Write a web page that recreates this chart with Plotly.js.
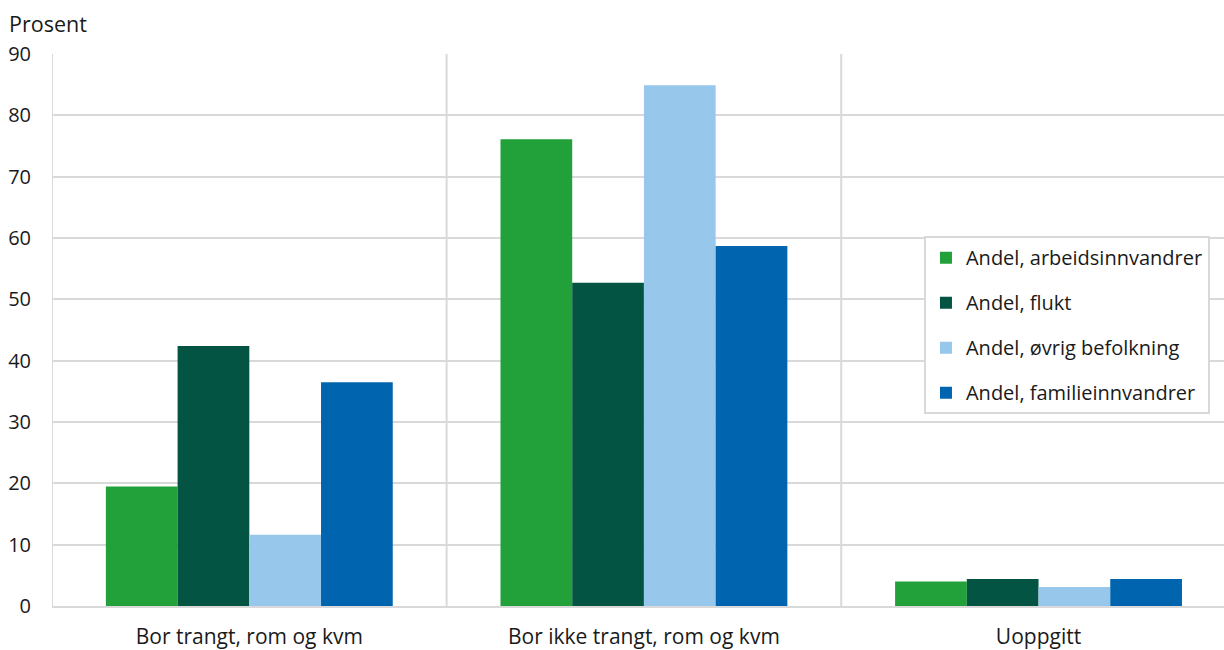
<!DOCTYPE html>
<html>
<head>
<meta charset="utf-8">
<script src="https://cdn.plot.ly/plotly-3.0.1.min.js"></script>
<style>body{margin:0;padding:0;background:#fff}#chart{width:1224px;height:650px}</style>
</head>
<body>
<div id="chart"></div>
<script>
const categories = ["Bor trangt, rom og kvm", "Bor ikke trangt, rom og kvm", "Uoppgitt"];
const seriesNames = ["Andel, arbeidsinnvandrer", "Andel, flukt", "Andel, øvrig befolkning", "Andel, familieinnvandrer"];
const arbeidsinnvandrer = [19.5, 76.1, 4.0];
const flukt = [42.4, 52.7, 4.4];
const ovrigBefolkning = [11.6, 84.9, 3.1];
const familieinnvandrer = [36.5, 58.7, 4.4];
const colors = ["#22A13A", "#035443", "#97C7EB", "#0064AF"];
const yTicks = [0, 10, 20, 30, 40, 50, 60, 70, 80, 90];
const catBoundaries = [-0.5, 0.5, 1.5];

const values = [arbeidsinnvandrer, flukt, ovrigBefolkning, familieinnvandrer];
const font = "Open Sans, sans-serif";
const grid = "#d9d9d9";
const txt = "#1a1a1a";

const traces = values.map((v, i) => ({
  type: "bar",
  x: categories,
  y: v,
  name: seriesNames[i],
  legendgroup: "g" + i,
  marker: {color: colors[i], line: {width: 0}},
  hoverinfo: "x+y+name"
}));

const shapes = catBoundaries.map(b => ({
  type: "line", xref: "x", yref: "paper",
  x0: b, x1: b, y0: 0, y1: 1,
  line: {color: grid, width: 2}, layer: "below"
}));

const layout = {
  width: 1224,
  height: 650,
  margin: {l: 52, r: 0, t: 54, b: 44},
  paper_bgcolor: "#fff",
  plot_bgcolor: "#fff",
  font: {family: font, size: 20, color: txt},
  barmode: "group",
  bargap: 0.273,
  bargroupgap: 0,
  showlegend: true,
  legend: {
    x: 0.744, y: 0.67, xanchor: "left", yanchor: "top",
    bgcolor: "#fff", bordercolor: grid, borderwidth: 2,
    font: {family: font, size: 20, color: txt},
    traceorder: "grouped", tracegroupgap: 16,
    itemwidth: 30
  },
  xaxis: {
    type: "category",
    range: [-0.5, 2.47],
    showgrid: false,
    showline: true, linecolor: grid, linewidth: 2,
    ticks: "", tickfont: {family: font, size: 21, color: txt},
    ticklabelstandoff: 11,
    fixedrange: true
  },
  yaxis: {
    range: [0, 90],
    tickmode: "array", tickvals: yTicks,
    showgrid: true, gridcolor: grid, gridwidth: 2,
    zeroline: false, showline: false, ticks: "",
    tickfont: {family: font, size: 20, color: txt},
    ticklabelstandoff: 20,
    fixedrange: true
  },
  shapes: shapes,
  annotations: [{
    text: "Prosent", xref: "paper", yref: "paper",
    x: -0.038, y: 1, xanchor: "left", yanchor: "bottom", yshift: 14,
    showarrow: false, font: {family: font, size: 21.5, color: txt}
  }]
};

Plotly.newPlot("chart", traces, layout, {displayModeBar: false, staticPlot: true});
</script>
</body>
</html>
